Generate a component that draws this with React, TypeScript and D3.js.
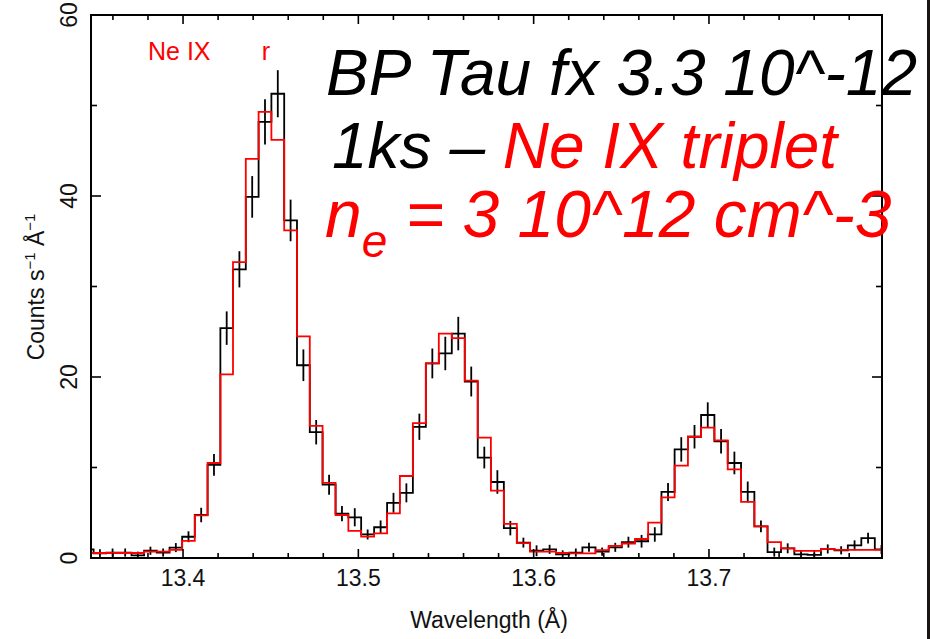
import React from "react";
import * as d3 from "d3";

// Bin edges (Å) – uniform 0.5 eV channels
const binEdges = [
  13.3418, 13.349, 13.3562, 13.3634, 13.3706, 13.3778, 13.385, 13.3923, 13.3995, 13.4067,
  13.414, 13.4213, 13.4285, 13.4358, 13.4431, 13.4504, 13.4577, 13.465, 13.4723, 13.4796,
  13.487, 13.4943, 13.5016, 13.509, 13.5164, 13.5237, 13.5311, 13.5385, 13.5459, 13.5533,
  13.5607, 13.5681, 13.5756, 13.583, 13.5904, 13.5979, 13.6054, 13.6128, 13.6203, 13.6278,
  13.6353, 13.6428, 13.6503, 13.6578, 13.6653, 13.6729, 13.6804, 13.688, 13.6955, 13.7031,
  13.7107, 13.7183, 13.7259, 13.7334, 13.7411, 13.7487, 13.7563, 13.7639, 13.7716, 13.7792,
  13.7869, 13.7946, 13.8022,
];

// Observed counts (black)
const dataCounts = [
  0.95, 0.52, 0.6, 0.6, 0.3, 0.8, 0.6, 1.15, 2.35, 4.75,
  10.3, 25.4, 31.9, 39.9, 48.2, 51.3, 37.3, 21.3, 13.9, 8.1,
  4.9, 4.5, 2.6, 3.4, 6.1, 7.2, 14.5, 21.5, 22.6, 24.8,
  19.5, 11.1, 8.4, 3.3, 1.7, 0.8, 0.96, 0.4, 0.6, 1.18,
  0.7, 1.18, 1.75, 1.85, 2.6, 7.3, 12.0, 13.4, 15.8, 12.9,
  10.5, 7.3, 3.5, 0.65, 1.07, 0.4, 0.35, 1.0, 0.85, 1.4,
  2.2, 0.95,
];

// 1-sigma errors on the counts
const dataErrors = [
  0.45, 0.45, 0.45, 0.45, 0.4, 0.45, 0.45, 0.5, 0.6, 0.8,
  1.2, 1.85, 2.0, 2.3, 2.5, 2.6, 2.3, 1.75, 1.35, 1.1,
  0.85, 1.0, 0.55, 0.75, 1.1, 1.05, 1.45, 1.65, 1.85, 1.85,
  1.65, 1.2, 1.3, 0.8, 0.55, 0.6, 0.5, 0.45, 0.45, 0.5,
  0.45, 0.5, 0.6, 0.7, 0.8, 1.0, 1.35, 1.3, 1.4, 1.35,
  1.25, 1.15, 0.65, 0.5, 0.55, 0.45, 0.45, 0.5, 0.45, 0.55,
  0.6, 0.5,
];

// Model (red)
const modelCounts = [
  0.55, 0.55, 0.55, 0.55, 0.55, 0.7, 0.7, 0.9, 1.9, 4.7,
  10.5, 20.3, 32.7, 44.1, 49.3, 46.2, 36.2, 24.5, 14.6, 8.3,
  4.75, 3.0, 2.36, 2.73, 4.94, 9.06, 14.9, 21.5, 24.8, 24.3,
  19.6, 13.3, 7.45, 3.76, 1.65, 0.7, 0.7, 0.55, 0.52, 0.52,
  0.88, 1.33, 1.6, 2.1, 3.9, 6.7, 10.2, 13.4, 14.4, 13.0,
  9.8, 6.2, 3.5, 1.75, 1.07, 0.78, 0.78, 1.0, 0.9, 0.9,
  0.9, 0.9,
];

const xMajorTicks = [13.4, 13.5, 13.6, 13.7];
const yMajorTicks = [0, 20, 40, 60];

const FONT = "'Liberation Sans', Arial, Helvetica, sans-serif";

export default function App() {
  const W = 930, H = 639;
  const L = 91, R = 882, T = 15, B = 558;
  const x = d3.scaleLinear().domain([13.3475, 13.7987]).range([L, R]);
  const y = d3.scaleLinear().domain([0, 60]).range([B, T]);

  const stepPath = (vals: number[]) => {
    let p = `M${x(binEdges[0])},${y(vals[0])}`;
    for (let i = 0; i < vals.length; i++) {
      if (i > 0) p += `V${y(vals[i])}`;
      p += `H${x(binEdges[i + 1])}`;
    }
    return p;
  };

  const xMinor = x.ticks(20).filter((t) => !xMajorTicks.some((m) => Math.abs(m - t) < 1e-6));
  const yMinor = y.ticks(6).filter((t) => !yMajorTicks.includes(t));

  const red = "#ff0000";

  return (
    <svg
      width={W}
      height={H}
      style={{ position: "absolute", left: 0, top: 0, background: "#fff" }}
      fontFamily={FONT}
    >
      <rect x={0} y={0} width={W} height={H} fill="#fff" />
      <defs>
        <clipPath id="plotclip">
          <rect x={L} y={T} width={R - L} height={B - T} />
        </clipPath>
      </defs>

      <g clipPath="url(#plotclip)">
        <path d={stepPath(dataCounts)} fill="none" stroke="#000" strokeWidth={1.8} />
        {dataCounts.map((v, i) => {
          const cx = x((binEdges[i] + binEdges[i + 1]) / 2);
          return (
            <line
              key={i}
              x1={cx}
              x2={cx}
              y1={y(v - dataErrors[i])}
              y2={y(v + dataErrors[i])}
              stroke="#000"
              strokeWidth={1.8}
            />
          );
        })}
        <path d={stepPath(modelCounts)} fill="none" stroke={red} strokeWidth={1.8} />
      </g>

      {/* frame */}
      <rect x={L} y={T} width={R - L} height={B - T} fill="none" stroke="#000" strokeWidth={2} />

      {/* x ticks */}
      {xMajorTicks.map((t) => (
        <g key={"xM" + t}>
          <line x1={x(t)} x2={x(t)} y1={B} y2={B - 9} stroke="#000" strokeWidth={1.6} />
          <line x1={x(t)} x2={x(t)} y1={T} y2={T + 9} stroke="#000" strokeWidth={1.6} />
          <text x={x(t)} y={586} textAnchor="middle" fontSize={23} fill="#111">
            {t.toFixed(1)}
          </text>
        </g>
      ))}
      {xMinor.map((t) => (
        <g key={"xm" + t}>
          <line x1={x(t)} x2={x(t)} y1={B} y2={B - 5} stroke="#000" strokeWidth={1.6} />
          <line x1={x(t)} x2={x(t)} y1={T} y2={T + 5} stroke="#000" strokeWidth={1.6} />
        </g>
      ))}

      {/* y ticks */}
      {yMajorTicks.map((t) => (
        <g key={"yM" + t}>
          <line x1={L} x2={L + 10} y1={y(t)} y2={y(t)} stroke="#000" strokeWidth={1.6} />
          <line x1={R} x2={R - 10} y1={y(t)} y2={y(t)} stroke="#000" strokeWidth={1.6} />
          <text
            transform={`translate(77,${y(t)}) rotate(-90)`}
            textAnchor="middle"
            fontSize={23}
            fill="#111"
          >
            {t}
          </text>
        </g>
      ))}
      {yMinor.map((t) => (
        <g key={"ym" + t}>
          <line x1={L} x2={L + 6} y1={y(t)} y2={y(t)} stroke="#000" strokeWidth={1.6} />
          <line x1={R} x2={R - 6} y1={y(t)} y2={y(t)} stroke="#000" strokeWidth={1.6} />
        </g>
      ))}

      {/* axis titles */}
      <text x={489} y={628} textAnchor="middle" fontSize={23} fill="#111">
        Wavelength (Å)
      </text>
      <text transform="translate(44,287) rotate(-90)" textAnchor="middle" fontSize={23} fill="#111">
        Counts s<tspan fontSize={15} dy={-9}>−1</tspan>
        <tspan dy={9}> Å</tspan>
        <tspan fontSize={15} dy={-9}>−1</tspan>
      </text>

      {/* line labels */}
      <text x={148} y={60} fontSize={25} fill={red}>Ne IX</text>
      <text x={266} y={60} fontSize={25} fill={red} textAnchor="middle">r</text>

      {/* big annotation */}
      <g fontStyle="italic" fontSize={64}>
        <text x={326} y={95} fill="#000">BP Tau fx 3.3 10^-12</text>
        <text x={332} y={168} fill="#000">
          1ks – <tspan fill={red}>Ne IX triplet</tspan>
        </text>
        <text x={325} y={237} fill={red} fontSize={66}>
          n<tspan fontSize={46} dy={20}>e</tspan>
          <tspan dy={-20}> = 3 10^12 cm^-3</tspan>
        </text>
      </g>

      {/* dark right edge */}
      <rect x={927} y={0} width={3} height={H} fill="#1a1412" />
    </svg>
  );
}
